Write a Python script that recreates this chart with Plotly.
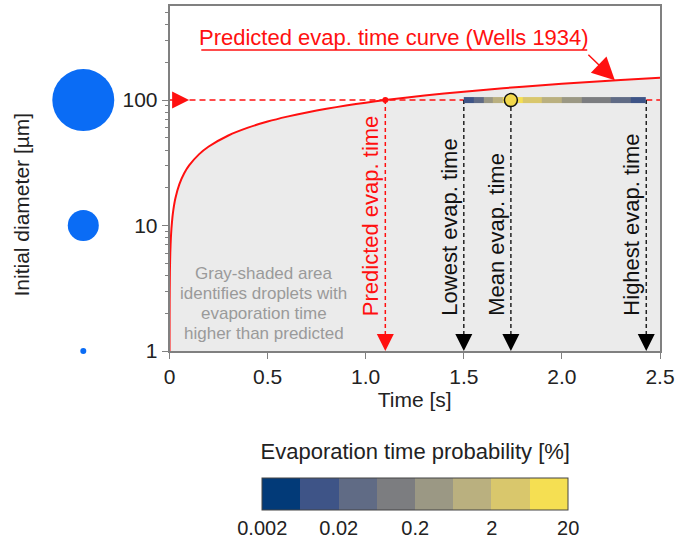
import math
import plotly.graph_objects as go

# ---------------- data ----------------
curve_t = [0.00011, 0.0003, 0.0006, 0.001, 0.002, 0.004, 0.007, 0.01, 0.015,
           0.02, 0.03, 0.05, 0.075, 0.1, 0.15, 0.2, 0.3, 0.4, 0.5, 0.6, 0.7,
           0.8, 0.9, 1.0, 1.1, 1.3, 1.5, 1.7, 1.9, 2.1, 2.3, 2.5]
curve_d = [1.0, 1.65, 2.34, 3.02, 4.26, 6.03, 7.98, 9.54, 11.68,
           13.48, 16.52, 21.32, 26.11, 30.15, 36.93, 42.64, 52.23, 60.31, 67.42,
           73.86, 79.78, 85.28, 90.46, 95.35, 100.0, 108.72, 116.78, 124.32,
           131.43, 138.17, 144.60, 150.76]

droplet_d = 100          # initial diameter of the examined droplet [um]
predicted_t = 1.1        # Wells prediction [s]
lowest_t = 1.5
mean_t = 1.74
highest_t = 2.43

bin_edges = [1.50, 1.55, 1.60, 1.65, 1.70, 1.75, 1.80, 1.85, 1.90, 1.95,
             2.00, 2.05, 2.10, 2.15, 2.20, 2.25, 2.30, 2.35, 2.43]
bin_prob = [0.01, 0.05, 0.3, 1.0, 12, 10, 4, 3, 1.2, 1.0,
            0.5, 0.4, 0.15, 0.1, 0.07, 0.04, 0.02, 0.01]

cbar_ticks = [0.002, 0.02, 0.2, 2, 20]
cbar_labels = ["0.002", "0.02", "0.2", "2", "20"]
cbar_colors = ["#023a78", "#3e5487", "#606b85", "#7c7d80",
               "#9b9884", "#bab07f", "#d9c76c", "#f5df52"]

size_legend_d = [1, 10, 100]
size_legend_px = [6, 31, 62]

x_ticks = [0, 0.5, 1.0, 1.5, 2.0, 2.5]
x_labels = ["0", "0.5", "1.0", "1.5", "2.0", "2.5"]

gray_note = ["Gray-shaded area", "identifies droplets with",
             "evaporation time", "higher than predicted"]

# ---------------- layout constants ----------------
FONT = "Liberation Sans, Arial, sans-serif"
RED = "#ff1010"
Y_RANGE = [0, 2.75]
X_RANGE = [0, 2.5]
POINTER_T = 0.1         # tip of the red pointer on the y axis
STRIP_HALF = 0.024      # half thickness of the strip in decades
MAIN_DOMAIN = [165 / 660, 1.0]
LEGEND_DOMAIN = [0.0, 156 / 660]
NOTE_Y = [0.2246, 0.1666, 0.1086, 0.0506]

fig = go.Figure()

# gray shaded area (below/right of the curve)
fig.add_trace(go.Scatter(
    x=curve_t + [X_RANGE[1], curve_t[0]],
    y=curve_d + [1, 1],
    fill="toself", fillcolor="#ebebeb", mode="none", hoverinfo="skip"))

# predicted curve
fig.add_trace(go.Scatter(x=curve_t, y=curve_d, mode="lines",
                         line=dict(color=RED, width=2, shape="spline",
                                   smoothing=0.5)))

# red dashed horizontal line at d = 100 (hidden under the strip)
fig.add_trace(go.Scatter(
    x=[0, lowest_t, None, highest_t, X_RANGE[1]],
    y=[droplet_d, droplet_d, None, droplet_d, droplet_d],
    mode="lines", line=dict(color=RED, width=1.5, dash="6px,4px")))

# red dashed vertical at predicted time
fig.add_trace(go.Scatter(
    x=[predicted_t, predicted_t], y=[droplet_d, 1.05],
    mode="lines", line=dict(color=RED, width=1.5, dash="4px,3px")))

# black dashed verticals
blk_x, blk_y = [], []
for t in [lowest_t, mean_t, highest_t]:
    blk_x += [t, t, None]
    blk_y += [droplet_d, 1.05, None]
fig.add_trace(go.Scatter(x=blk_x, y=blk_y, mode="lines",
                         line=dict(color="#222222", width=1.5, dash="4px,3px")))

# arrows at the bottom
fig.add_trace(go.Scatter(x=[predicted_t], y=[1], mode="markers", cliponaxis=False,
                         marker=dict(symbol="arrow-down", size=17, color=RED,
                                     line=dict(width=0))))
fig.add_trace(go.Scatter(x=[lowest_t, mean_t, highest_t], y=[1, 1, 1],
                         mode="markers", cliponaxis=False,
                         marker=dict(symbol="arrow-down", size=17, color="#000000",
                                     line=dict(width=0))))
# red pointer on the y axis
fig.add_trace(go.Scatter(x=[POINTER_T], y=[droplet_d], mode="markers", cliponaxis=False,
                         marker=dict(symbol="arrow-right", size=17, color=RED,
                                     line=dict(width=0))))
# red dot at curve intersection
fig.add_trace(go.Scatter(x=[predicted_t], y=[droplet_d], mode="markers",
                         marker=dict(size=6, color=RED)))

# size legend circles (own x axis in the left margin, shared log y axis)
fig.add_trace(go.Scatter(x=[0.5] * 3, y=size_legend_d, mode="markers",
                         xaxis="x2", cliponaxis=False,
                         marker=dict(size=size_legend_px, color="#0a6cf5",
                                     opacity=1, line=dict(width=0))))

# underline for the curve label
ul_d = 10 ** 2.399
fig.add_trace(go.Scatter(x=[0.162, 2.129], y=[ul_d, ul_d], mode="lines",
                         line=dict(color=RED, width=1.5)))

# probability strip (overlay axis in log10 units)
fig.add_trace(go.Heatmap(
    x=bin_edges,
    y=[math.log10(droplet_d) - STRIP_HALF, math.log10(droplet_d) + STRIP_HALF],
    z=[[math.log10(p) for p in bin_prob]],
    coloraxis="coloraxis", yaxis="y2", hoverinfo="skip"))
# mean marker on top of the strip
fig.add_trace(go.Scatter(x=[mean_t], y=[math.log10(droplet_d)], yaxis="y2",
                         mode="markers",
                         marker=dict(size=13, color="#f2d84c",
                                     line=dict(color="#111111", width=1.5))))

# discrete colorscale
n = len(cbar_colors)
cscale = []
for i, c in enumerate(cbar_colors):
    cscale.append([i / n, c])
    cscale.append([(i + 1) / n, c])

annotations = []
# vertical labels
for txt, t, col in [("Predicted evap. time", predicted_t, RED),
                    ("Lowest evap. time", lowest_t, "#111111"),
                    ("Mean evap. time", mean_t, "#111111"),
                    ("Highest evap. time", highest_t, "#111111")]:
    annotations.append(dict(text=txt, x=t, xref="x", y=0.096, yref="paper",
                            xanchor="right", yanchor="bottom", textangle=-90,
                            showarrow=False, xshift=0,
                            font=dict(size=22, color=col, family=FONT)))
# gray note
for i, line in enumerate(gray_note):
    annotations.append(dict(text=line, x=0.48, xref="x",
                            y=NOTE_Y[i], yref="paper",
                            xanchor="center", yanchor="middle", showarrow=False,
                            font=dict(size=17, color="#9a9a9a", family=FONT)))
# curve label
annotations.append(dict(text="Predicted evap. time curve (Wells 1934)",
                        x=1.145, xref="x", y=0.91, yref="paper",
                        xanchor="center", yanchor="middle", showarrow=False,
                        font=dict(size=22, color=RED, family=FONT)))
# arrow to the curve
annotations.append(dict(text="", x=2.27, xref="x", y=math.log10(143.7), yref="y",
                        ax=-28, ay=-27, showarrow=True, arrowhead=2,
                        arrowsize=3, arrowwidth=1.5, arrowcolor=RED))
# y axis title
annotations.append(dict(text="Initial diameter [µm]", x=2 / 660, xref="paper",
                        y=0.426, yref="paper", textangle=-90,
                        xanchor="left", yanchor="middle", showarrow=False,
                        font=dict(size=21, color="#222222", family=FONT)))

fig.update_layout(
    width=675, height=540,
    margin=dict(l=0, r=15, t=6, b=189),
    paper_bgcolor="white", plot_bgcolor="white",
    showlegend=False,
    font=dict(family=FONT, size=21, color="#222222"),
    xaxis=dict(domain=MAIN_DOMAIN, range=X_RANGE, tickvals=x_ticks, ticktext=x_labels,
               ticks="outside", ticklen=6, tickcolor="#808080",
               showline=True, linecolor="#808080", linewidth=1.5, mirror=True,
               showgrid=False, zeroline=False,
               tickfont=dict(size=21),
               title=dict(text="Time [s]", font=dict(size=21), standoff=4)),
    xaxis2=dict(domain=LEGEND_DOMAIN, range=[0, 1], anchor="y", visible=False),
    yaxis=dict(type="log", range=Y_RANGE, dtick=1, anchor="x",
               ticks="outside", ticklen=6, tickcolor="#808080",
               minor=dict(ticks="outside", ticklen=3, tickcolor="#808080", dtick="D1"),
               showline=True, linecolor="#808080", linewidth=1.5, mirror=True,
               showgrid=False, zeroline=False,
               tickfont=dict(size=21)),
    yaxis2=dict(overlaying="y", range=Y_RANGE, visible=False),
    coloraxis=dict(
        colorscale=cscale,
        cmin=math.log10(cbar_ticks[0]), cmax=math.log10(cbar_ticks[-1]),
        colorbar=dict(orientation="h", x=413 / 660, xanchor="center",
                      y=-0.2945, yanchor="top", xpad=0, ypad=0,
                      len=306, lenmode="pixels", thickness=32,
                      thicknessmode="pixels",
                      outlinewidth=1, outlinecolor="#444444",
                      tickvals=[math.log10(v) for v in cbar_ticks],
                      ticktext=cbar_labels, ticks="", ticklen=0,
                      tickfont=dict(size=20),
                      title=dict(text="Evaporation time probability [%]",
                                 side="top", font=dict(size=22)))),
    annotations=annotations,
)

fig.write_html("out.html")
